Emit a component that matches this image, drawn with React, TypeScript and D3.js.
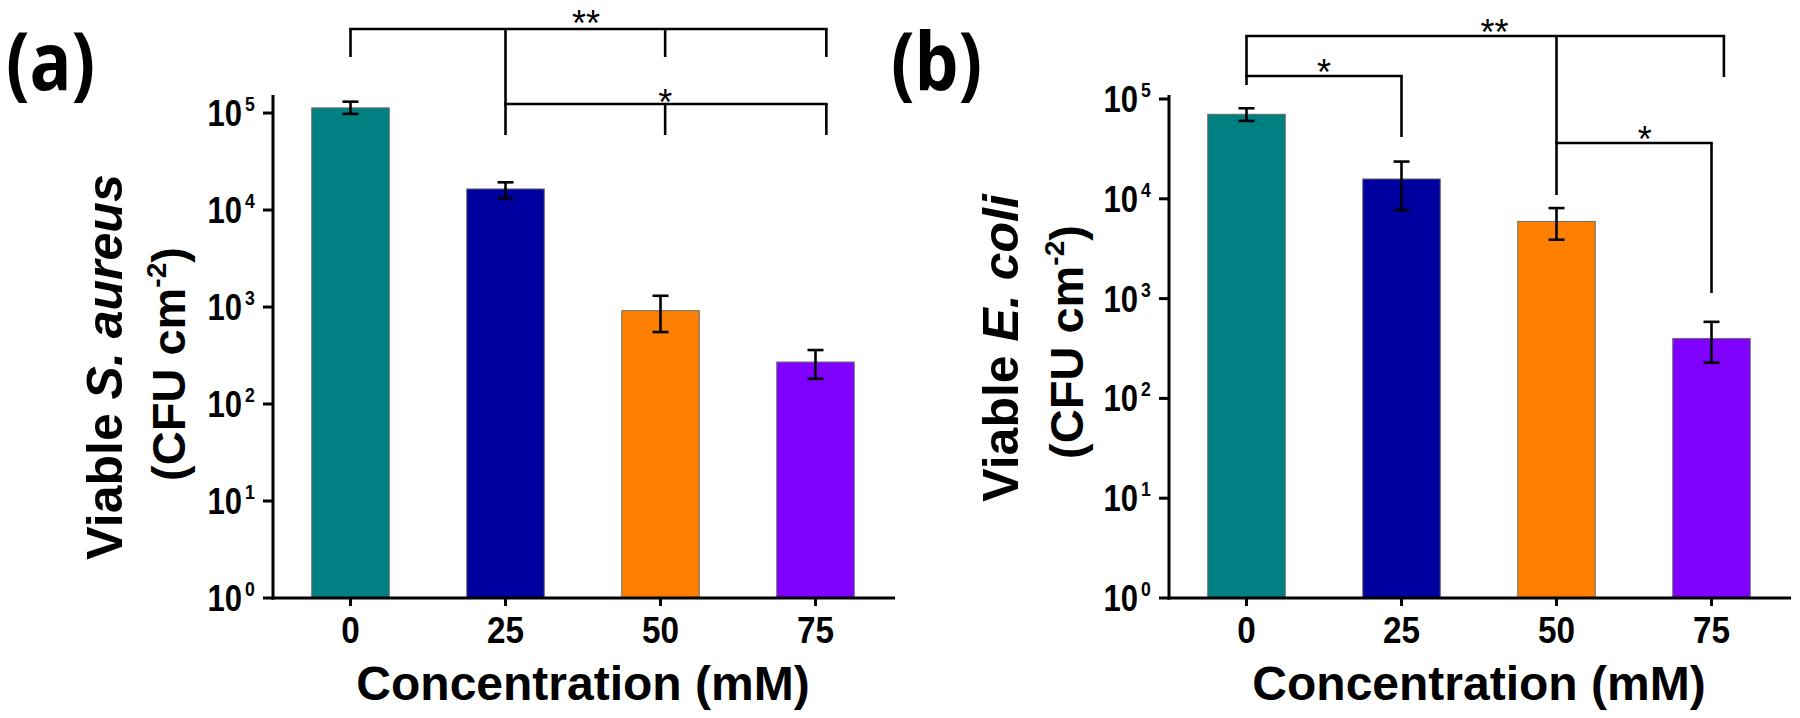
import React, { useEffect } from "react";
import * as d3 from "d3";

// ---------- data ----------
const categories = ["0", "25", "50", "75"];
const barColors = ["#008080", "#0000A0", "#FF8000", "#8000FF"];

// Panel (a): Viable S. aureus (CFU cm^-2)
const aureusMean = [1.13e5, 1.65e4, 916, 271];
const aureusUpper = [1.31e5, 1.93e4, 1306, 360];
const aureusLower = [0.98e5, 1.32e4, 552, 182];

// Panel (b): Viable E. coli (CFU cm^-2)
const coliMean = [7.03e4, 1.58e4, 5.93e3, 398];
const coliUpper = [8.07e4, 2.36e4, 8.07e3, 585];
const coliLower = [6.03e4, 7.7e3, 3.89e3, 228];

const yTickValues = [1, 10, 100, 1000, 1e4, 1e5];
const yTickExponents = ["0", "1", "2", "3", "4", "5"];

// significance annotations (category positions, pixel levels)
const bracketsA = [
  { from: 0, to: 3.07, y: 29, legs: [[0, 57], [1, 135], [2.03, 57], [3.07, 57]] },
  { from: 1, to: 3.07, y: 104, legs: [[2.03, 135], [3.07, 135]] },
];
const starsA = [
  { label: "**", c: 1.52, y: 15 },
  { label: "*", c: 2.03, y: 94 },
];
const bracketsB = [
  { from: 0, to: 3.08, y: 36, legs: [[0, 85], [2, 195], [3.08, 77]] },
  { from: 0, to: 1, y: 76, legs: [[1, 137]] },
  { from: 2, to: 3, y: 143, legs: [[3, 293]] },
];
const starsB = [
  { label: "**", c: 1.6, y: 23.5 },
  { label: "*", c: 0.5, y: 63.5 },
  { label: "*", c: 2.57, y: 131 },
];

const FONT = "'Liberation Sans', Arial, sans-serif";

type PanelProps = {
  x0: number;
  x1: number;
  yMax: number;
  mean: number[];
  upper: number[];
  lower: number[];
  species: string;
  label: string;
  labelX: number;
  title1X: number;
  title2X: number;
  title1Y: number;
  title2Y: number;
  brackets: { from: number; to: number; y: number; legs: number[][] }[];
  stars: { label: string; c: number; y: number }[];
};

function Panel(p: PanelProps) {
  const yBottom = 598;
  const yTopPx = 95;
  const xBand = d3
    .scaleBand<string>()
    .domain(categories)
    .range([p.x0, p.x1])
    .paddingInner(0.5)
    .paddingOuter(0.25);
  const bw = xBand.bandwidth();
  const step = xBand.step();
  const c0 = (xBand(categories[0]) as number) + bw / 2;
  const xPos = (c: number) => c0 + c * step;
  const y = d3.scaleLog().domain([1, p.yMax]).range([yBottom, yTopPx]);
  const cap = 8;

  return (
    <g>
      {/* panel label */}
      <text
        transform={`translate(${p.labelX},90) scale(0.87,1)`}
        fontFamily="'Open Sans', sans-serif"
        fontWeight={700}
        fontSize={80}
        fill="#000"
      >
        {p.label}
      </text>

      {/* bars */}
      {categories.map((c, i) => (
        <rect
          key={"bar" + c}
          x={xBand(c)}
          y={y(p.mean[i])}
          width={bw}
          height={yBottom - y(p.mean[i])}
          fill={barColors[i]}
          stroke="#6b6b6b"
          strokeWidth={1}
        />
      ))}

      {/* error bars */}
      {categories.map((c, i) => {
        const cx = xPos(i);
        return (
          <g key={"err" + c} stroke="#000" strokeWidth={2.6}>
            <line x1={cx} x2={cx} y1={y(p.lower[i])} y2={y(p.upper[i])} />
            <line x1={cx - cap} x2={cx + cap} y1={y(p.upper[i])} y2={y(p.upper[i])} />
            <line x1={cx - cap} x2={cx + cap} y1={y(p.lower[i])} y2={y(p.lower[i])} />
          </g>
        );
      })}

      {/* axes */}
      <g stroke="#000" strokeWidth={3}>
        <line x1={p.x0} x2={p.x0} y1={yTopPx} y2={yBottom + 1.5} />
        <line x1={p.x0 - 1.5} x2={p.x1 + 2} y1={yBottom} y2={yBottom} />
        {yTickValues.map((v) => (
          <line key={"yt" + v} x1={p.x0 - 10} x2={p.x0} y1={y(v)} y2={y(v)} />
        ))}
        {categories.map((c, i) => (
          <line key={"xt" + c} x1={xPos(i)} x2={xPos(i)} y1={yBottom} y2={yBottom + 8} />
        ))}
      </g>

      {/* y tick labels */}
      {yTickValues.map((v, i) => (
        <g key={"yl" + v} fontFamily={FONT} fontWeight={700} fill="#000">
          <text
            transform={`translate(${p.x0 - 31},${y(v) + 13}) scale(0.84,1)`}
            textAnchor="end"
            fontSize={37}
          >
            10
          </text>
          <text
            transform={`translate(${p.x0 - 28},${y(v) - 2}) scale(0.84,1)`}
            fontSize={21}
          >
            {yTickExponents[i]}
          </text>
        </g>
      ))}

      {/* x tick labels */}
      {categories.map((c, i) => (
        <text
          key={"xl" + c}
          transform={`translate(${xPos(i)},643) scale(0.9,1)`}
          textAnchor="middle"
          fontFamily={FONT}
          fontWeight={700}
          fontSize={37}
        >
          {c}
        </text>
      ))}

      {/* x title */}
      <text
        x={(p.x0 + p.x1) / 2}
        y={700}
        textAnchor="middle"
        fontFamily={FONT}
        fontWeight={700}
        fontSize={48}
      >
        Concentration (mM)
      </text>

      {/* y title */}
      <text
        transform={`translate(${p.title1X},${p.title1Y}) rotate(-90)`}
        textAnchor="middle"
        fontFamily={FONT}
        fontWeight={700}
        fontSize={50}
      >
        Viable <tspan fontStyle="italic">{p.species}</tspan>
      </text>
      <text
        transform={`translate(${p.title2X},${p.title2Y}) rotate(-90)`}
        textAnchor="middle"
        fontFamily={FONT}
        fontWeight={700}
        fontSize={47}
      >
        (CFU cm
        <tspan dy={-19} fontSize={28}>
          -2
        </tspan>
        <tspan dy={19}>)</tspan>
      </text>

      {/* significance brackets */}
      <g stroke="#000" strokeWidth={2.6} fill="none">
        {p.brackets.map((b, bi) => (
          <g key={"br" + bi}>
            <line x1={xPos(b.from) - 1.3} x2={xPos(b.to) + 1.3} y1={b.y} y2={b.y} />
            {b.legs.map((l, li) => (
              <line key={li} x1={xPos(l[0])} x2={xPos(l[0])} y1={b.y} y2={l[1]} />
            ))}
          </g>
        ))}
      </g>
      {p.stars.map((s, si) => (
        <text
          key={"st" + si}
          x={xPos(s.c)}
          y={s.y + 21}
          textAnchor="middle"
          fontFamily={FONT}
          fontSize={36}
        >
          {s.label}
        </text>
      ))}
    </g>
  );
}

export default function App() {
  useEffect(() => {
    document.body.style.margin = "0";
  }, []);
  return (
    <svg
      width={1800}
      height={718}
      viewBox="0 0 1800 718"
      style={{ position: "absolute", left: 0, top: 0, background: "#fff", display: "block" }}
    >
      <rect x={0} y={0} width={1800} height={718} fill="#fff" />
      <Panel
        x0={273}
        x1={893}
        yMax={Math.pow(10, 5.186)}
        mean={aureusMean}
        upper={aureusUpper}
        lower={aureusLower}
        species="S. aureus"
        label="(a)"
        labelX={6}
        title1X={122}
        title2X={185}
        title1Y={367}
        title2Y={364}
        brackets={bracketsA}
        stars={starsA}
      />
      <Panel
        x0={1169}
        x1={1789}
        yMax={Math.pow(10, 5.04)}
        mean={coliMean}
        upper={coliUpper}
        lower={coliLower}
        species="E. coli"
        label="(b)"
        labelX={891}
        title1X={1018}
        title2X={1083}
        title1Y={348}
        title2Y={342}
        brackets={bracketsB}
        stars={starsB}
      />
    </svg>
  );
}
